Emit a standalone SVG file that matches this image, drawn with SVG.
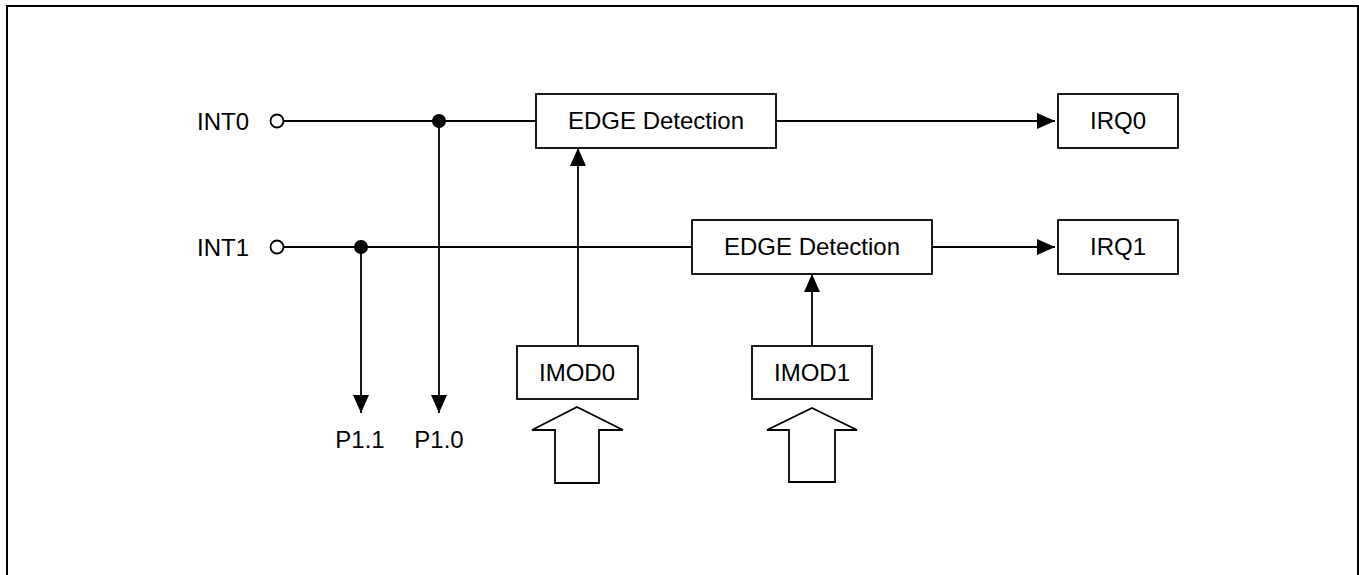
<svg xmlns="http://www.w3.org/2000/svg" width="1359" height="575" viewBox="0 0 1359 575">
<style>
  .box { fill: #ffffff; stroke: #000000; stroke-width: 1.8; }
  .wire { fill: none; stroke: #000000; stroke-width: 1.8; }
  .lbl { font-family: "Liberation Sans", Arial, sans-serif; font-size: 24px; fill: #000000; }
  .mid { text-anchor: middle; }
  .hollow { fill: #ffffff; stroke: #000000; stroke-width: 1.8; stroke-linejoin: miter; }
</style>
<defs>
  <marker id="arr" markerUnits="userSpaceOnUse" markerWidth="18" markerHeight="16" refX="18" refY="8" orient="auto">
    <path d="M0,0 L18,8 L0,16 Z" fill="#000000"/>
  </marker>
</defs>
<rect x="0" y="0" width="1359" height="575" fill="#ffffff"/>
<rect x="7" y="6" width="1351" height="620" fill="none" stroke="#000000" stroke-width="2"/>

<g id="connectors">
  <line class="wire" x1="283" y1="121" x2="536" y2="121"/>
  <line class="wire" x1="776" y1="121" x2="1055" y2="121" marker-end="url(#arr)"/>
  <line class="wire" x1="283" y1="247" x2="692" y2="247"/>
  <line class="wire" x1="932" y1="247" x2="1055" y2="247" marker-end="url(#arr)"/>
  <line class="wire" x1="439" y1="121" x2="439" y2="413" marker-end="url(#arr)"/>
  <line class="wire" x1="361" y1="247" x2="361" y2="413" marker-end="url(#arr)"/>
  <line class="wire" x1="578" y1="346" x2="578" y2="148" marker-end="url(#arr)"/>
  <line class="wire" x1="812" y1="346" x2="812" y2="274" marker-end="url(#arr)"/>
  <circle cx="439" cy="121" r="7" fill="#000000"/>
  <circle cx="361" cy="247" r="7" fill="#000000"/>
</g>

<g id="int0">
  <circle cx="277" cy="121" r="6.5" fill="#ffffff" stroke="#000000" stroke-width="1.8"/>
  <text class="lbl" x="249" y="130" text-anchor="end">INT0</text>
</g>
<g id="int1">
  <circle cx="277" cy="247" r="6.5" fill="#ffffff" stroke="#000000" stroke-width="1.8"/>
  <text class="lbl" x="249" y="256" text-anchor="end">INT1</text>
</g>

<g id="edge0">
  <rect class="box" x="536" y="94" width="240" height="54"/>
  <text class="lbl mid" x="656" y="129">EDGE Detection</text>
</g>
<g id="edge1">
  <rect class="box" x="692" y="220" width="240" height="54"/>
  <text class="lbl mid" x="812" y="255">EDGE Detection</text>
</g>
<g id="irq0">
  <rect class="box" x="1058" y="94" width="120" height="54"/>
  <text class="lbl mid" x="1118" y="129">IRQ0</text>
</g>
<g id="irq1">
  <rect class="box" x="1058" y="220" width="120" height="54"/>
  <text class="lbl mid" x="1118" y="255">IRQ1</text>
</g>
<g id="imod0">
  <rect class="box" x="517" y="346" width="121" height="53"/>
  <text class="lbl mid" x="577" y="381">IMOD0</text>
</g>
<g id="imod1">
  <rect class="box" x="752" y="346" width="120" height="53"/>
  <text class="lbl mid" x="812" y="381">IMOD1</text>
</g>
<g id="p11">
  <text class="lbl mid" x="360" y="448">P1.1</text>
</g>
<g id="p10">
  <text class="lbl mid" x="439" y="448">P1.0</text>
</g>
<g id="bus0">
  <path class="hollow" d="M577,407 L623,430 L599,430 L599,483 L555,483 L555,430 L532,430 Z"/>
</g>
<g id="bus1">
  <path class="hollow" d="M812,408 L857,430 L835,430 L835,482 L789,482 L789,430 L767,430 Z"/>
</g>
</svg>
